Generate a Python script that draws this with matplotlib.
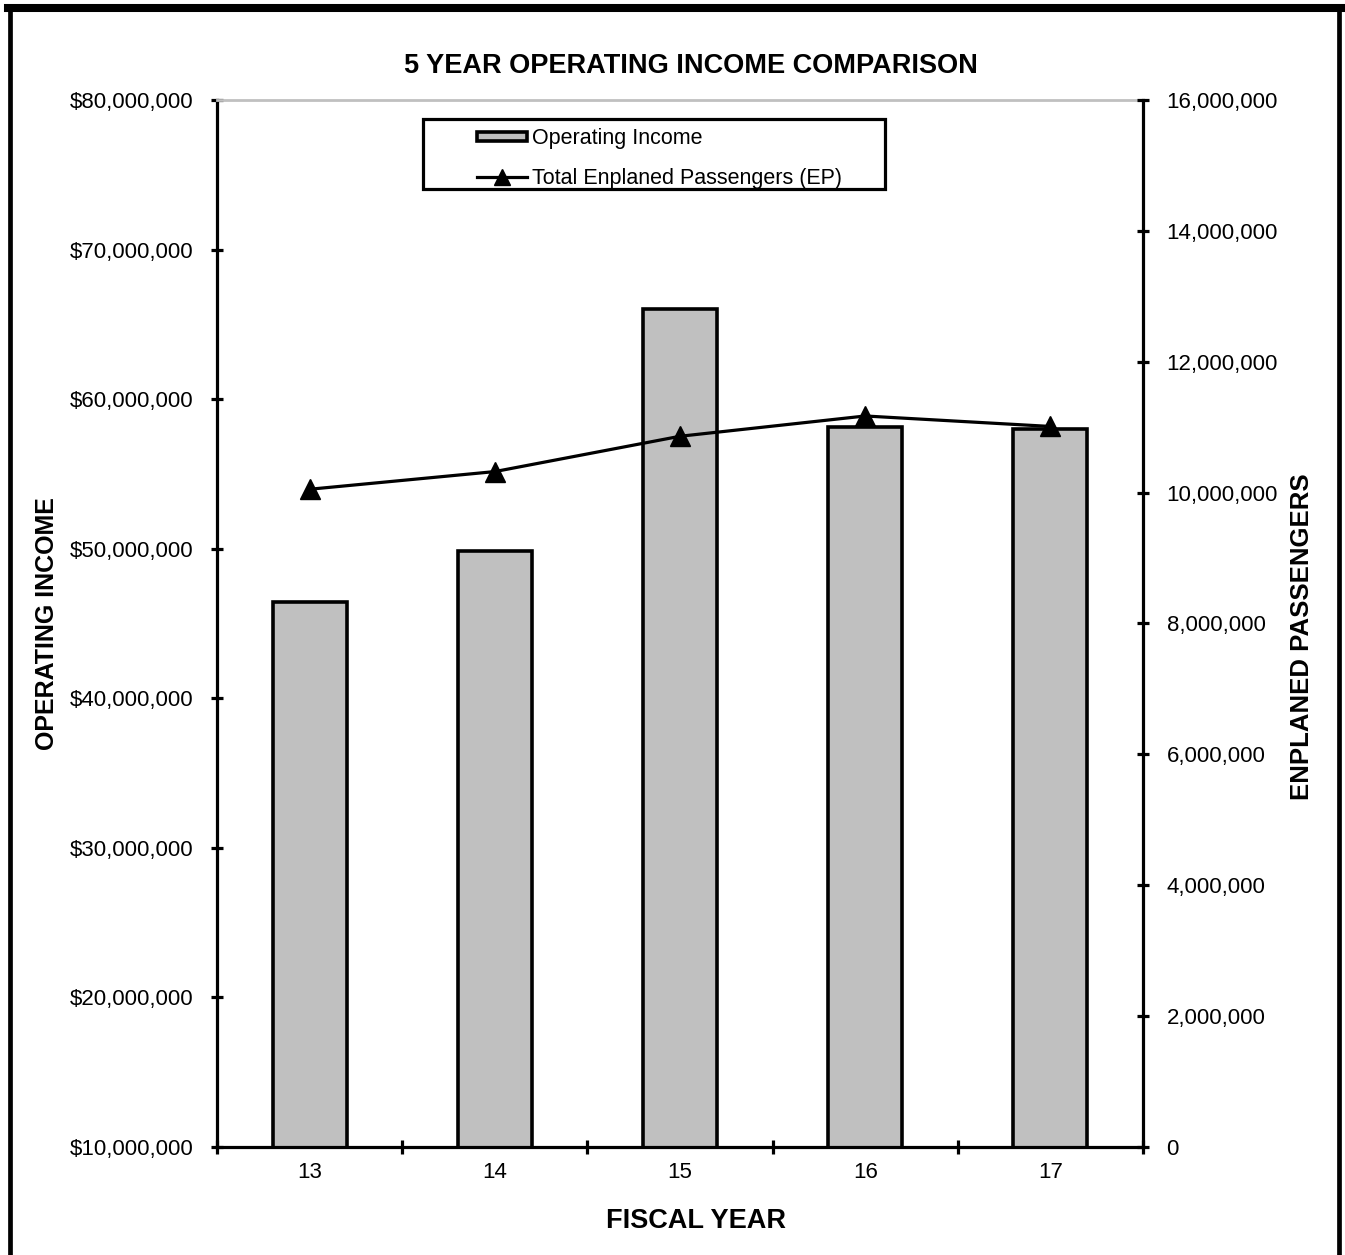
import matplotlib
matplotlib.use("Agg")
import matplotlib.pyplot as plt
from matplotlib.lines import Line2D
from matplotlib.patches import Patch, Rectangle
from matplotlib.ticker import FuncFormatter, FixedLocator, MultipleLocator

plt.rcParams['font.family'] = ['Liberation Sans', 'DejaVu Sans']

# Data
fiscal_years = ['13', '14', '15', '16', '17']
operating_income = [46_450_000, 49_860_000, 66_000_000, 58_100_000, 58_000_000]
enplaned_passengers = [10_050_000, 10_320_000, 10_860_000, 11_170_000, 11_010_000]

BAR_COLOR = '#c0c0c0'

fig = plt.figure(figsize=(13.45, 12.55), dpi=100)
ax = fig.add_axes([0.16134, 0.08629, 0.68848, 0.83402])
ax2 = ax.twinx()

x = list(range(len(fiscal_years)))

# Operating income bars on the left axis
ax.bar(x, operating_income, width=0.4, color=BAR_COLOR, edgecolor='black',
       linewidth=2.6, zorder=2)
ax.set_xlim(-0.5, len(fiscal_years) - 0.5)
ax.set_ylim(10_000_000, 80_000_000)
ax.yaxis.set_major_locator(MultipleLocator(10_000_000))
ax.yaxis.set_major_formatter(FuncFormatter(lambda v, p: f'${v:,.0f}'))

# Enplaned passengers line on the right axis
ax2.plot(x, enplaned_passengers, color='black', linewidth=2.3, marker='^',
         markersize=14.5, zorder=3)
ax2.set_ylim(0, 16_000_000)
ax2.yaxis.set_major_locator(MultipleLocator(2_000_000))
ax2.yaxis.set_major_formatter(FuncFormatter(lambda v, p: f'{v:,.0f}'))

# Category ticks sit between bars, labels sit at bar centres
ax.xaxis.set_major_locator(FixedLocator([i - 0.5 for i in range(len(fiscal_years) + 1)]))
ax.xaxis.set_major_formatter(FuncFormatter(lambda v, p: ''))
ax.xaxis.set_minor_locator(FixedLocator(x))
ax.set_xticklabels(fiscal_years, minor=True)
ax.tick_params(axis='x', which='major', direction='inout', length=10, width=2.3)
ax.tick_params(axis='x', which='minor', length=0, pad=11.0, labelsize=16)

ax.tick_params(axis='y', which='major', direction='inout', length=9, width=2.3,
               pad=12.5, labelsize=16)
ax2.tick_params(axis='y', which='major', direction='inout', length=9, width=2.3,
                pad=12.5, labelsize=16)

# Spines
for s in ('left', 'bottom'):
    ax.spines[s].set_linewidth(2.3)
    ax.spines[s].set_color('black')
ax.spines['right'].set_visible(False)
ax.spines['top'].set_color(BAR_COLOR)
ax.spines['top'].set_linewidth(2.0)
for s in ('left', 'bottom', 'top'):
    ax2.spines[s].set_visible(False)
ax2.spines['right'].set_linewidth(2.3)
ax2.spines['right'].set_color('black')

# Axis titles
ax.set_xlabel('FISCAL YEAR', fontsize=19.5, fontweight='bold')
ax.xaxis.set_label_coords(0.517, -0.071)
ax.xaxis.label.set_va('center')
ax.set_ylabel('OPERATING INCOME', fontsize=18, fontweight='bold')
ax.yaxis.set_label_coords(-0.184, 0.5)
ax.yaxis.label.set_va('center')
ax2.set_ylabel('ENPLANED PASSENGERS', fontsize=18.5, fontweight='bold', rotation=90)
ax2.yaxis.set_label_coords(1.1717, 0.487)
ax2.yaxis.label.set_va('center')

fig.text(0.5134, 0.9477, '5 YEAR OPERATING INCOME COMPARISON', fontsize=19.5,
         fontweight='bold', ha='center', va='center')

# Legend
handles = [
    Patch(facecolor=BAR_COLOR, edgecolor='black', linewidth=2.6, label='Operating Income'),
    Line2D([], [], color='black', linewidth=2.3, marker='^', markersize=11,
           label='Total Enplaned Passengers (EP)'),
]
ax2.legend(handles=handles, loc='center left', bbox_to_anchor=(0.2808, 0.9442),
           frameon=False, fontsize=15.5, borderpad=0, borderaxespad=0,
           handlelength=2.3, handleheight=0.3, handletextpad=0.25,
           labelspacing=0.85)
ax2.add_patch(Rectangle((0.2225, 0.915), 0.4989, 0.0668, transform=ax2.transAxes,
                        facecolor='none', edgecolor='black', linewidth=2.3,
                        zorder=5, clip_on=False))

# Outer frame
for xf in (0.0077, 0.9959):
    fig.add_artist(Line2D([xf, xf], [0, 0.9936], transform=fig.transFigure,
                          color='black', linewidth=3.4))
fig.add_artist(Line2D([0.0062, 0.9975], [0.9936, 0.9936], transform=fig.transFigure,
                      color='black', linewidth=5.8))

fig.savefig('out.png', dpi=100, facecolor='white')
